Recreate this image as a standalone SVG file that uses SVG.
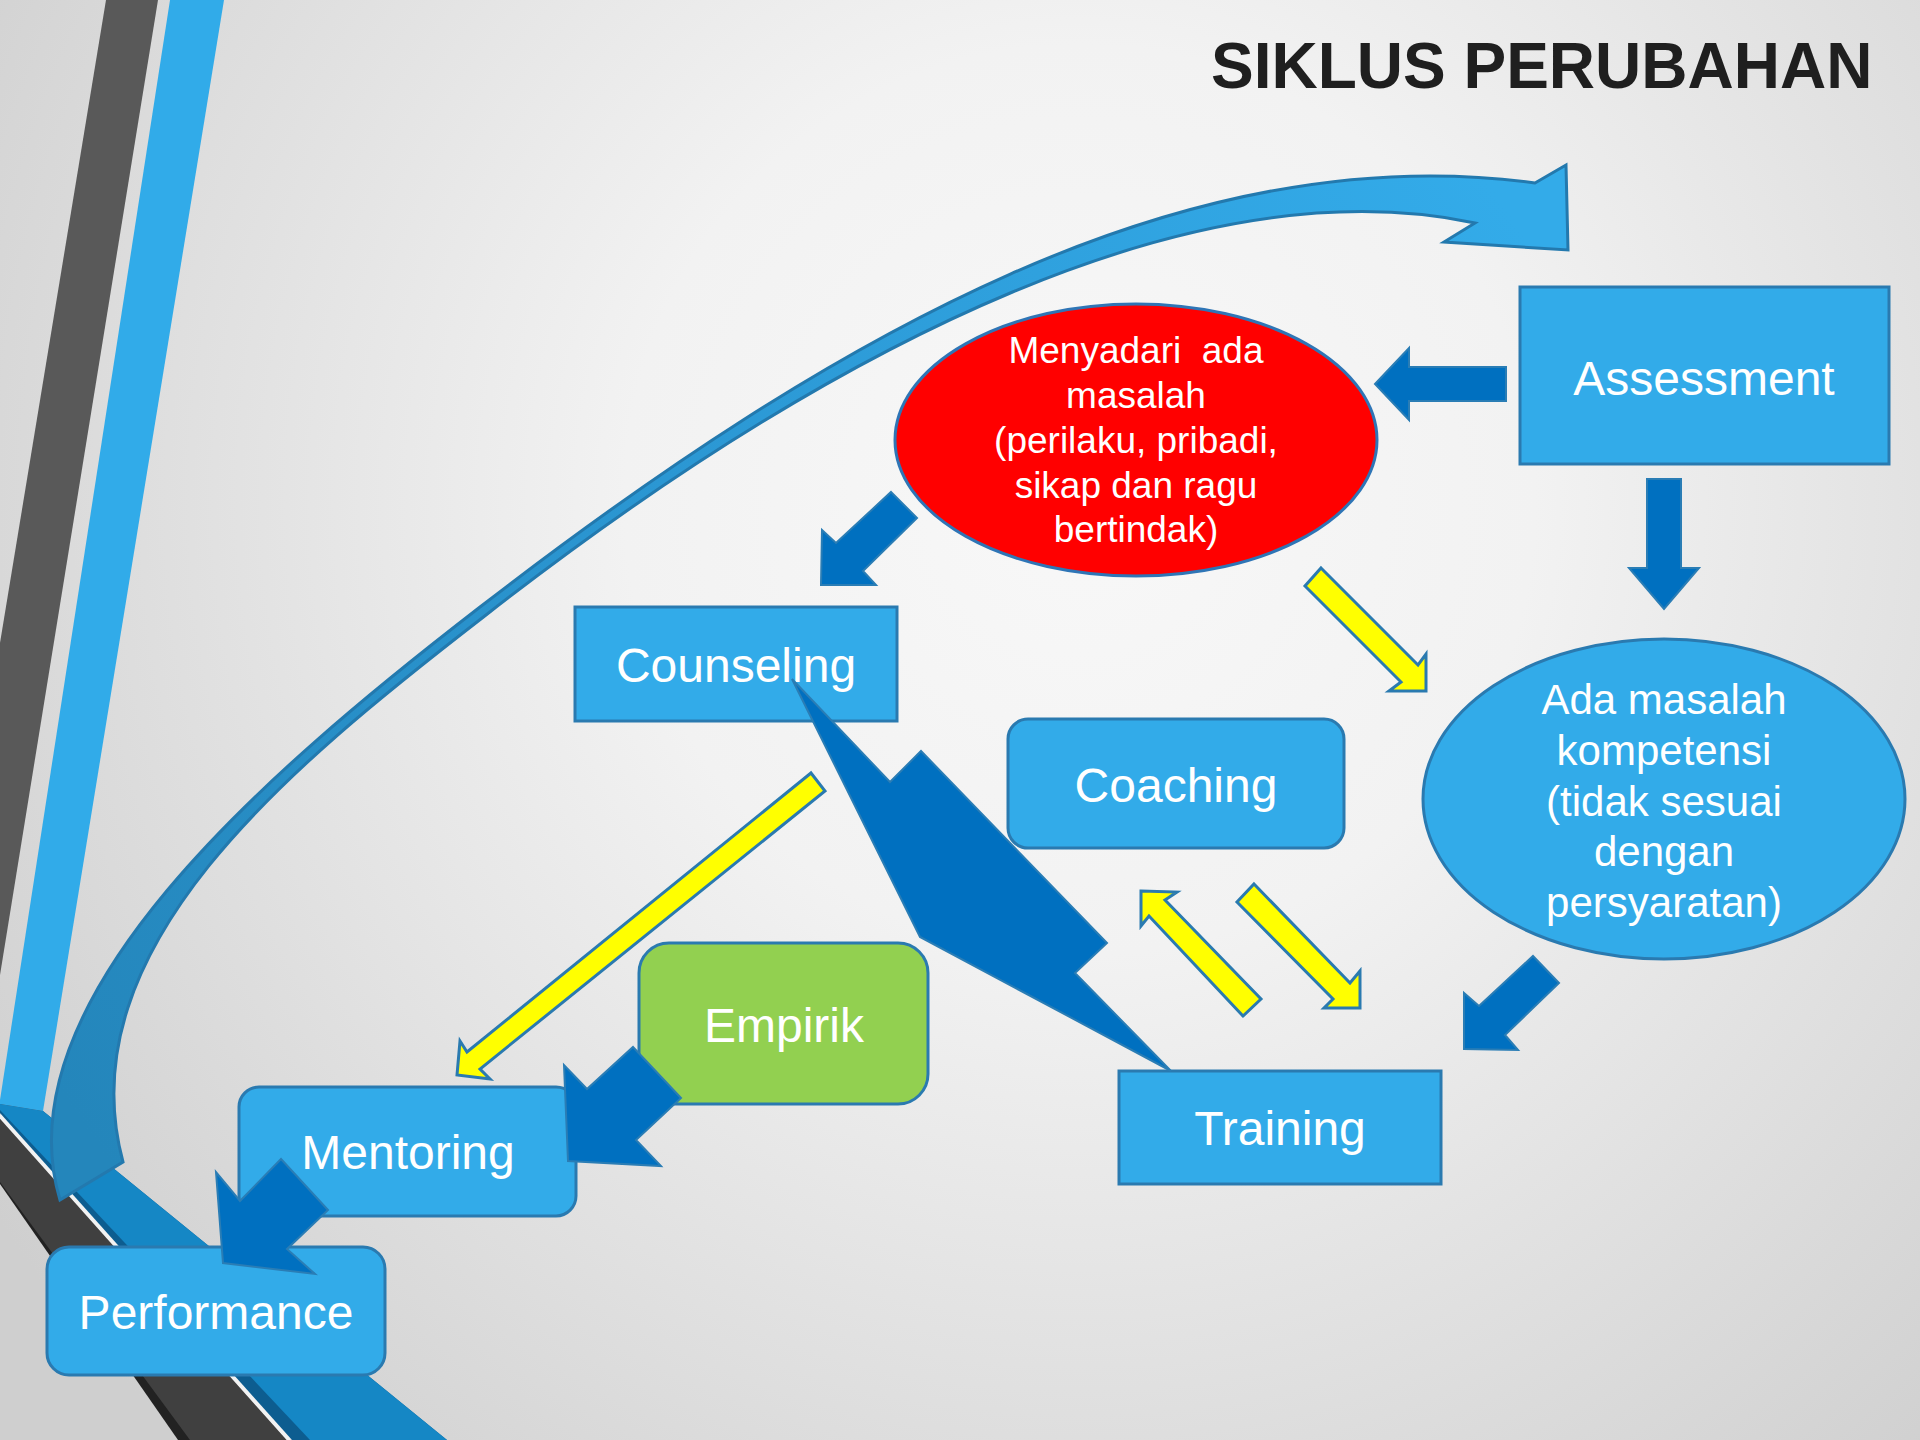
<svg xmlns="http://www.w3.org/2000/svg" width="1920" height="1440" viewBox="0 0 1920 1440">
  <defs>
    <radialGradient id="bg" gradientUnits="userSpaceOnUse" cx="1080" cy="500" r="1300">
      <stop offset="0" stop-color="#f8f8f8"/>
      <stop offset="0.35" stop-color="#f2f2f2"/>
      <stop offset="1" stop-color="#cfcfcf"/>
    </radialGradient>
    <linearGradient id="curveFill" gradientUnits="userSpaceOnUse" x1="1500" y1="200" x2="100" y2="1150">
      <stop offset="0" stop-color="#33abe9"/>
      <stop offset="0.5" stop-color="#2b97d3"/>
      <stop offset="1" stop-color="#2486bb"/>
    </linearGradient>
    <style>
      .box { fill: #32abe9; stroke: #2a7ab0; stroke-width: 3; }
      .green { fill: #92d050; stroke: #2a7ab0; stroke-width: 3; }
      .red { fill: #ff0000; stroke: #2e75b6; stroke-width: 3; }
      .lbl { font-family: "Liberation Sans", Arial, sans-serif; fill: #ffffff; text-anchor: middle; }
      .big { font-size: 48px; }
      .arrow { fill: #0070c0; stroke: #2a7db5; stroke-width: 2; stroke-linejoin: miter; }
      .yellow { fill: #ffff00; stroke: #2a7ab0; stroke-width: 3; stroke-linejoin: miter; }
    </style>
  </defs>

  <!-- background -->
  <rect x="0" y="0" width="1920" height="1440" fill="url(#bg)"/>

  <!-- decorative stripes on the left -->
  <g id="decor">
    <polygon points="106,0 158,0 0,975 0,643" fill="#595959"/>
    <polygon points="170,0 224,0 43,1111 0,1104 0,1100" fill="#31abe9"/>
    <polygon points="0,1184 0,1118 287,1440 178,1440" fill="#222222"/>
    <polygon points="0,1118 287,1440 190,1440 0,1182" fill="#404040"/>
    <line x1="0" y1="1115" x2="290" y2="1440" stroke="#f2f2f2" stroke-width="5"/>
    <polygon points="0,1104 43,1111 447,1440 292,1440 0,1113" fill="#0d5d90"/>
    <polygon points="0,1104 43,1111 447,1440 310,1440 0,1110" fill="#1587c5"/>
  </g>

  <!-- large curved return arrow -->
  <g id="curved-arrow">
    <path fill="url(#curveFill)" stroke="#2379ae" stroke-width="3" stroke-linejoin="miter"
      d="M60,1200 C0,1000 265,773 480,607 C835.5,332.5 1187,135 1535,183 L1566,165 L1568,250 L1444,242 L1475,223 C1200,165 845,335 486,615 C288.5,767.5 65.8,948.6 123,1162 Z"/>
  </g>

  <!-- title -->
  <text x="1211" y="88" font-family="'Liberation Sans', Arial, sans-serif" font-size="64" font-weight="bold" fill="#1f1f1f">SIKLUS PERUBAHAN</text>

  <!-- nodes -->
  <g id="node-assessment">
    <rect class="box" x="1520" y="287" width="369" height="177"/>
    <text class="lbl big" x="1704" y="395">Assessment</text>
  </g>

  <g id="node-menyadari">
    <ellipse class="red" cx="1136" cy="440" rx="241" ry="136"/>
    <text class="lbl" font-size="37" x="1136" y="363" style="white-space:pre">Menyadari  ada</text>
    <text class="lbl" font-size="37" x="1136" y="408">masalah</text>
    <text class="lbl" font-size="37" x="1136" y="453">(perilaku, pribadi,</text>
    <text class="lbl" font-size="37" x="1136" y="498">sikap dan ragu</text>
    <text class="lbl" font-size="37" x="1136" y="542">bertindak)</text>
  </g>

  <g id="node-kompetensi">
    <ellipse class="box" cx="1664" cy="799" rx="241" ry="160"/>
    <text class="lbl" font-size="42" x="1664" y="714">Ada masalah</text>
    <text class="lbl" font-size="42" x="1664" y="765">kompetensi</text>
    <text class="lbl" font-size="42" x="1664" y="816">(tidak sesuai</text>
    <text class="lbl" font-size="42" x="1664" y="866">dengan</text>
    <text class="lbl" font-size="42" x="1664" y="917">persyaratan)</text>
  </g>

  <g id="node-counseling">
    <rect class="box" x="575" y="607" width="322" height="114"/>
    <text class="lbl big" x="736" y="682">Counseling</text>
  </g>

  <g id="node-coaching">
    <rect class="box" x="1008" y="719" width="336" height="129" rx="20" ry="20"/>
    <text class="lbl big" x="1176" y="802">Coaching</text>
  </g>

  <g id="node-training">
    <rect class="box" x="1119" y="1071" width="322" height="113"/>
    <text class="lbl big" x="1280" y="1145">Training</text>
  </g>

  <g id="node-empirik">
    <rect class="green" x="639" y="943" width="289" height="161" rx="30" ry="30"/>
    <text class="lbl big" x="784" y="1042">Empirik</text>
  </g>

  <g id="node-mentoring">
    <rect class="box" x="239" y="1087" width="337" height="129" rx="20" ry="20"/>
    <text class="lbl big" x="408" y="1169">Mentoring</text>
  </g>

  <g id="node-performance">
    <rect class="box" x="47" y="1247" width="338" height="128" rx="22" ry="22"/>
    <text class="lbl big" x="216" y="1329">Performance</text>
  </g>

  <!-- connectors -->
  <g id="connectors">
    <!-- Counseling to Training -->
    <polygon class="arrow" points="792,679 890,782 921,751 1107,943 1075,973 1171,1071 920,937"/>
    <!-- Assessment to Menyadari -->
    <polygon class="arrow" points="1375,384 1409,348 1409,367 1506,367 1506,401 1409,401 1409,420"/>
    <!-- Assessment to Kompetensi -->
    <polygon class="arrow" points="1647,479 1681,479 1681,568 1699,568 1664,609 1629,568 1647,568"/>
    <!-- Menyadari to Counseling -->
    <polygon class="arrow" points="891,492 917,518 863,571 876,585 821,585 822,530 836,543"/>
    <!-- Kompetensi to Training -->
    <polygon class="arrow" points="1533,956 1559,983 1505,1035 1518,1050 1464,1049 1464,993 1479,1006"/>
    <!-- Empirik to Mentoring -->
    <polygon class="arrow" points="633,1047 681,1098 636,1140 661,1166 568,1161 564,1065 587,1089"/>
    <!-- Mentoring to Performance -->
    <polygon class="arrow" points="281,1159 328,1210 287,1249 315,1274 223,1263 216,1172 240,1201"/>

    <!-- Menyadari to Kompetensi -->
    <polygon class="yellow" points="1321,568 1418,665 1426,654 1426,691 1389,691 1401,682 1305,586"/>
    <!-- Counseling to Mentoring -->
    <polygon class="yellow" points="811,773 825,791 480,1069 490,1079 457,1075 460,1041 467,1052"/>
    <!-- Training to Coaching -->
    <polygon class="yellow" points="1141,891 1177,892 1165,900 1261,999 1243,1016 1149,916 1141,926"/>
    <!-- Coaching to Training -->
    <polygon class="yellow" points="1254,884 1350,983 1360,971 1360,1008 1324,1008 1333,999 1237,902"/>
  </g>
</svg>
